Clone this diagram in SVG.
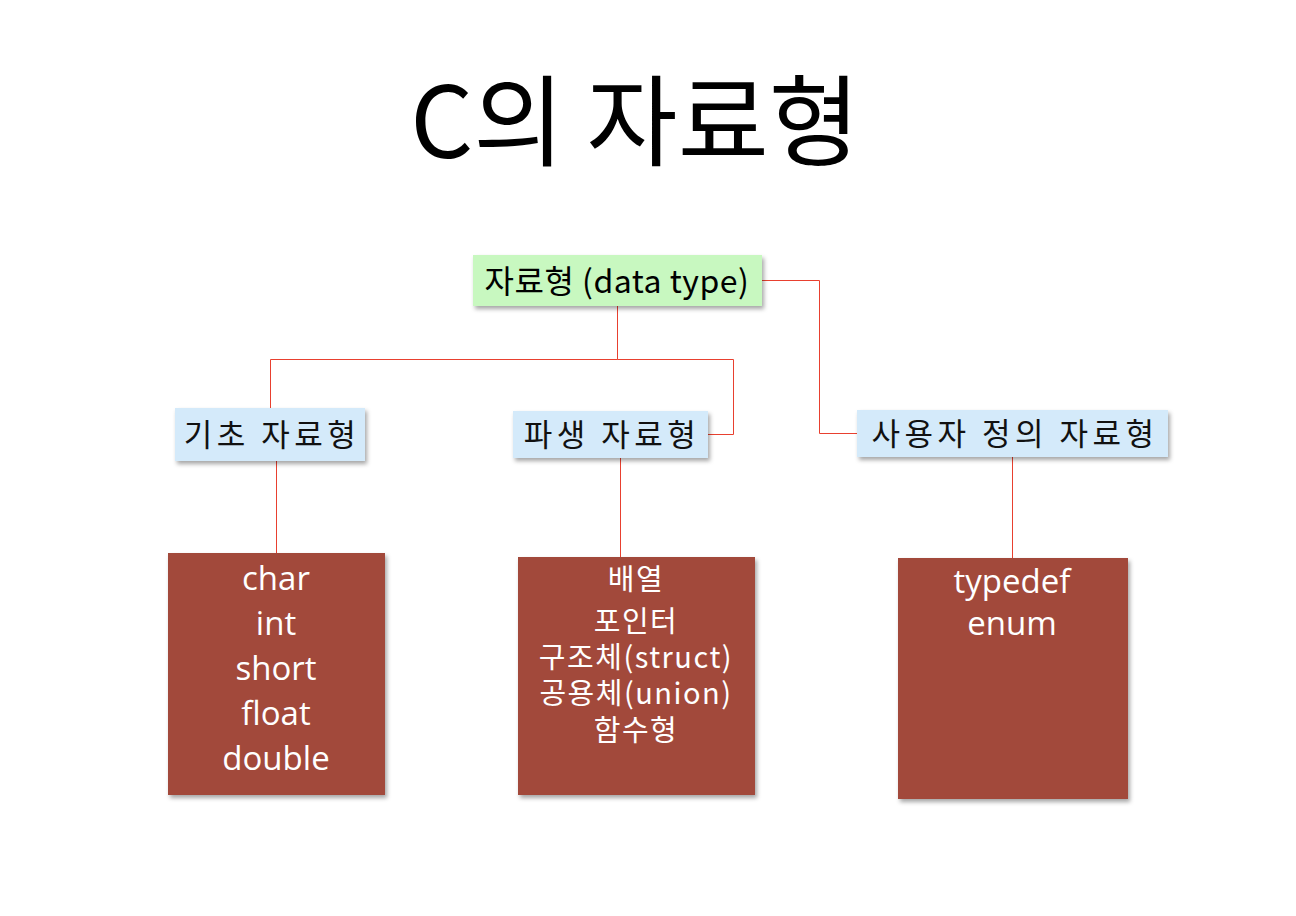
<svg xmlns="http://www.w3.org/2000/svg" width="1296" height="916" viewBox="0 0 1296 916">
<defs>
<filter id="sh" x="-10%" y="-10%" width="120%" height="130%">
<feDropShadow dx="2" dy="3" stdDeviation="2" flood-color="#000" flood-opacity="0.35"/>
</filter>
</defs>
<style>
.k{font-family:"Noto Sans CJK KR","Noto Sans",sans-serif;}
.lbl{font-size:31px;fill:#111;text-anchor:middle;letter-spacing:4.5px;}
.w{fill:#fff;text-anchor:middle;}
.brown{fill:#A2493A;filter:url(#sh);}
.blue{fill:#D4EAFA;filter:url(#sh);}
.conn{fill:none;stroke:#E8402F;stroke-width:1;}
</style>
<rect width="1296" height="916" fill="#fff"/>
<text class="k" x="635" y="158" font-size="99" text-anchor="middle" fill="#000">C의 자료형</text>
<g id="connectors">
<path class="conn" d="M617.5 306 V359.5 H270.5 V408"/>
<path class="conn" d="M617.5 359.5 H733.5 V434.5 H708"/>
<path class="conn" d="M762 280.5 H819.5 V433.5 H857"/>
<path class="conn" d="M276.5 461 V553"/>
<path class="conn" d="M620.5 458 V557"/>
<path class="conn" d="M1012.5 457 V558"/>
</g>
<g id="root">
<rect x="473" y="255" width="289" height="51" fill="#C8F8C0" filter="url(#sh)"/>
<text class="k" x="617" y="293" font-size="32" text-anchor="middle" fill="#000" letter-spacing="0.5">자료형 (data type)</text>
</g>
<g id="basic">
<rect class="blue" x="175" y="408" width="190" height="53"/>
<text class="k lbl" x="272" y="446">기초 자료형</text>
</g>
<g id="derived">
<rect class="blue" x="513" y="411" width="195" height="47"/>
<text class="k lbl" x="612" y="446">파생 자료형</text>
</g>
<g id="user">
<rect class="blue" x="857" y="410" width="311" height="47"/>
<text class="k lbl" x="1015" y="445">사용자 정의 자료형</text>
</g>
<g id="basic-list">
<rect class="brown" x="168" y="553" width="217" height="242"/>
<g class="w" font-family="'Open Sans','Noto Sans',sans-serif" font-size="33">
<text x="276" y="590">char</text>
<text x="276" y="635">int</text>
<text x="276" y="680">short</text>
<text x="276" y="725">float</text>
<text x="276" y="770">double</text>
</g>
</g>
<g id="derived-list">
<rect class="brown" x="518" y="557" width="237" height="238"/>
<g class="w k" font-size="29" letter-spacing="1.5">
<text x="636" y="590">배열</text>
<text x="636" y="632">포인터</text>
<text x="636" y="668">구조체(struct)</text>
<text x="636" y="704">공용체(union)</text>
<text x="636" y="741">함수형</text>
</g>
</g>
<g id="user-list">
<rect class="brown" x="898" y="558" width="230" height="241"/>
<g class="w" font-family="'Open Sans','Noto Sans',sans-serif" font-size="33">
<text x="1012" y="593">typedef</text>
<text x="1012" y="635">enum</text>
</g>
</g>
</svg>
